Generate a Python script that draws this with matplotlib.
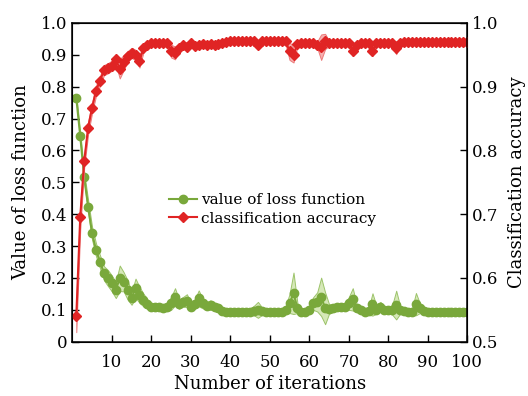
import numpy as np
import matplotlib
matplotlib.use('Agg')
import matplotlib.pyplot as plt

plt.rcParams['font.family'] = ['DejaVu Serif']
plt.rcParams['font.size'] = 12

iterations = list(range(1, 101))

# loss function value (left axis)
loss = [0.765, 0.645, 0.516, 0.424, 0.340, 0.288, 0.251, 0.215, 0.200, 0.183,
        0.162, 0.199, 0.188, 0.162, 0.136, 0.168, 0.147, 0.131, 0.118, 0.108,
        0.108, 0.108, 0.106, 0.108, 0.120, 0.141, 0.118, 0.125, 0.129, 0.110,
        0.118, 0.136, 0.120, 0.113, 0.115, 0.108, 0.105, 0.098, 0.094, 0.094,
        0.094, 0.093, 0.094, 0.094, 0.094, 0.098, 0.100, 0.096, 0.094, 0.093,
        0.094, 0.094, 0.094, 0.100, 0.120, 0.152, 0.105, 0.094, 0.094, 0.100,
        0.120, 0.125, 0.141, 0.105, 0.103, 0.105, 0.108, 0.108, 0.110, 0.120,
        0.133, 0.105, 0.100, 0.094, 0.095, 0.117, 0.100, 0.110, 0.100, 0.100,
        0.100, 0.115, 0.100, 0.096, 0.094, 0.094, 0.118, 0.105, 0.098, 0.094,
        0.093, 0.092, 0.093, 0.092, 0.093, 0.092, 0.092, 0.093, 0.092, 0.093]
loss_spread = [0.010, 0.012, 0.015, 0.020, 0.020, 0.020, 0.020, 0.022, 0.025, 0.025,
               0.025, 0.040, 0.030, 0.030, 0.020, 0.030, 0.025, 0.020, 0.015, 0.010,
               0.010, 0.010, 0.010, 0.012, 0.020, 0.027, 0.015, 0.015, 0.020, 0.012,
               0.015, 0.025, 0.015, 0.012, 0.015, 0.010, 0.010, 0.008, 0.008, 0.008,
               0.008, 0.008, 0.008, 0.008, 0.010, 0.015, 0.025, 0.012, 0.008, 0.008,
               0.008, 0.008, 0.008, 0.012, 0.030, 0.065, 0.015, 0.008, 0.008, 0.010,
               0.020, 0.030, 0.060, 0.050, 0.015, 0.012, 0.010, 0.010, 0.010, 0.020,
               0.035, 0.012, 0.010, 0.008, 0.010, 0.035, 0.012, 0.015, 0.010, 0.010,
               0.015, 0.045, 0.012, 0.008, 0.008, 0.010, 0.035, 0.015, 0.008, 0.006,
               0.006, 0.006, 0.006, 0.006, 0.006, 0.006, 0.006, 0.006, 0.006, 0.006]

# classification accuracy (right axis)
accuracy = [0.540, 0.696, 0.783, 0.836, 0.867, 0.894, 0.909, 0.926, 0.929, 0.933,
            0.943, 0.928, 0.938, 0.948, 0.953, 0.950, 0.940, 0.960, 0.966, 0.968,
            0.968, 0.968, 0.968, 0.968, 0.956, 0.953, 0.961, 0.966, 0.962, 0.968,
            0.964, 0.965, 0.967, 0.965, 0.967, 0.965, 0.967, 0.968, 0.970, 0.971,
            0.971, 0.971, 0.971, 0.971, 0.971, 0.971, 0.966, 0.971, 0.971, 0.971,
            0.971, 0.971, 0.971, 0.971, 0.956, 0.950, 0.967, 0.968, 0.968, 0.968,
            0.968, 0.966, 0.962, 0.971, 0.968, 0.968, 0.968, 0.968, 0.968, 0.968,
            0.956, 0.966, 0.968, 0.968, 0.968, 0.956, 0.968, 0.968, 0.968, 0.968,
            0.968, 0.961, 0.968, 0.970, 0.970, 0.970, 0.970, 0.970, 0.970, 0.970,
            0.970, 0.970, 0.970, 0.970, 0.970, 0.970, 0.970, 0.970, 0.970, 0.970]
accuracy_spread = [0.025, 0.020, 0.010, 0.010, 0.008, 0.008, 0.008, 0.008, 0.008, 0.008,
                   0.008, 0.015, 0.012, 0.008, 0.008, 0.008, 0.010, 0.006, 0.004, 0.004,
                   0.004, 0.004, 0.004, 0.004, 0.010, 0.010, 0.005, 0.004, 0.004, 0.004,
                   0.004, 0.004, 0.004, 0.004, 0.004, 0.004, 0.004, 0.004, 0.004, 0.004,
                   0.004, 0.004, 0.004, 0.004, 0.004, 0.004, 0.006, 0.004, 0.004, 0.004,
                   0.004, 0.004, 0.004, 0.005, 0.014, 0.012, 0.004, 0.004, 0.004, 0.004,
                   0.004, 0.005, 0.020, 0.012, 0.004, 0.004, 0.004, 0.004, 0.004, 0.004,
                   0.008, 0.004, 0.004, 0.004, 0.004, 0.008, 0.004, 0.004, 0.004, 0.004,
                   0.004, 0.010, 0.004, 0.003, 0.003, 0.003, 0.003, 0.003, 0.003, 0.003,
                   0.003, 0.003, 0.003, 0.003, 0.003, 0.003, 0.003, 0.003, 0.003, 0.003]

green = '#79a83b'
red = '#e02424'

fig = plt.figure(figsize=(5.28, 3.96), dpi=100)
ax = fig.add_axes([0.137, 0.137, 0.748, 0.805])
ax2 = ax.twinx()

x = np.array(iterations)
l = np.array(loss)
ls = np.array(loss_spread)
ax.fill_between(x, l - ls, l + ls, facecolor='#d6e8b8', edgecolor='#9cc36a', linewidth=0.7)
h1, = ax.plot(x, l, color=green, marker='o', markersize=6, linewidth=1.5, label='value of loss function')

a = np.array(accuracy)
s = np.array(accuracy_spread)
ax2.fill_between(x, a - s, a + s, facecolor='#f6b0b0', edgecolor='#ec7a7a', linewidth=0.7)
h2, = ax2.plot(x, a, color=red, marker='D', markersize=5.5, linewidth=1.5, label='classification accuracy')

ax.set_xlim(0, 100)
ax.set_ylim(0, 1.0)
ax2.set_ylim(0.5, 1.0)
ax.set_xticks(range(10, 101, 10))
ax.set_yticks(np.arange(0, 1.01, 0.1))
ax.set_yticklabels(['0'] + ['%.1f' % v for v in np.arange(0.1, 1.01, 0.1)])
ax2.set_yticks(np.arange(0.5, 1.01, 0.1))
ax2.set_yticklabels(['%.1f' % v for v in np.arange(0.5, 1.01, 0.1)])

ax.tick_params(direction='in', length=5, width=1, top=False)
ax.tick_params(axis='x', pad=9)
ax2.tick_params(direction='in', length=5, width=1)
for sp in ax2.spines.values():
    sp.set_linewidth(1.1)

ax.set_xlabel('Number of iterations', fontsize=13, labelpad=3)
ax.set_ylabel('Value of loss function', fontsize=13, labelpad=8)
ax2.set_ylabel('Classification accuracy', fontsize=13, labelpad=7)

ax2.legend(handles=[h1, h2], loc='center left', bbox_to_anchor=(0.21, 0.415),
           frameon=False, fontsize=11, handlelength=1.8, handletextpad=0.3, labelspacing=0.3)

fig.savefig('out.png', dpi=100)
